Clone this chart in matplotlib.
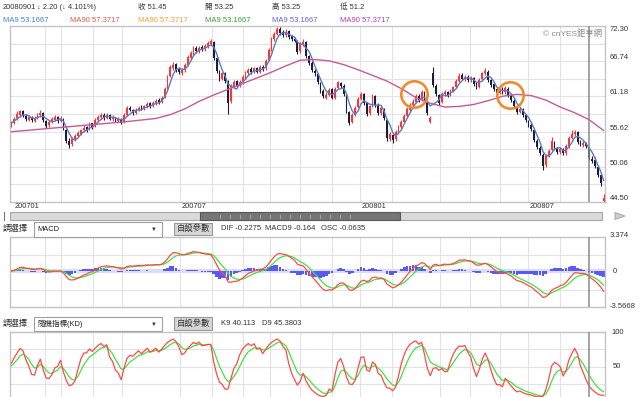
import numpy as np
import pandas as pd
import matplotlib
matplotlib.use("Agg")
import matplotlib.pyplot as plt
from matplotlib.patches import Rectangle, Polygon
from matplotlib.transforms import blended_transform_factory

plt.rcParams['font.family'] = ['Liberation Sans', 'Noto Sans CJK TC', 'DejaVu Sans']

# ---------------- data (each candle ~ 2 trading days) ----------------
close = [57.0, 57.6, 58.4, 58.8, 58.2, 57.6, 57.9, 57.4, 57.8, 58.3,
         58.6, 57.4, 56.5, 57.1, 57.6, 57.9, 57.3, 57.8, 56.0, 54.1,
         53.5, 54.5, 55.0, 55.4, 55.8, 56.2, 55.9, 56.8, 56.4, 57.5,
         58.0, 58.2, 57.8, 58.3, 57.6, 57.9, 57.4, 57.6, 57.0, 58.2,
         59.3, 59.0, 58.6, 59.1, 59.4, 59.2, 59.6, 60.0, 59.7, 60.1,
         60.5, 60.3, 61.0, 62.4, 64.3, 65.8, 66.2, 65.4, 65.0, 65.3,
         66.1, 67.4, 68.0, 68.8, 68.3, 68.9, 68.6, 69.2, 69.6, 69.9,
         67.3, 65.2, 63.9, 64.8, 63.6, 60.2, 62.8, 63.5, 62.9, 63.4,
         64.2, 64.9, 65.4, 65.0, 65.6, 65.1, 65.8, 65.5, 66.8, 68.5,
         70.1, 71.0, 71.8, 71.2, 70.8, 71.4, 70.6, 70.2, 70.0, 68.2,
         69.5, 69.8, 67.6, 66.4, 65.3, 64.8, 63.4, 62.0, 61.2, 61.4,
         62.2, 61.0, 62.4, 63.4, 62.8, 61.5, 58.8, 57.0, 58.2, 59.4,
         60.8, 61.6, 60.2, 58.4, 59.6, 61.3, 59.8, 58.6, 59.3, 57.8,
         54.6, 55.2, 54.3, 55.6, 56.4, 57.2, 58.1, 59.2, 59.8, 60.3,
         61.2, 60.6, 61.9, 60.4, 58.6, 57.8, 63.0, 61.5, 60.2, 61.6,
         61.9, 61.4, 62.0, 62.6, 63.6, 64.4, 64.0, 64.3, 63.7, 64.1,
         63.2, 62.6, 63.8, 64.8, 65.2, 63.7, 63.0, 62.3, 61.7, 62.4,
         61.8, 62.5, 61.4, 60.6, 59.6, 58.7, 59.2, 58.3, 57.4, 56.6,
         56.0, 54.3, 53.2, 52.3, 50.2, 51.8, 52.6, 54.1, 53.0, 52.4,
         52.9, 52.2, 53.3, 54.6, 55.3, 55.6, 54.0, 53.6, 53.8, 53.3,
         51.45, 51.0, 50.2, 48.8, 47.5, 45.2]
open_ = [56.6, 57.0, 57.7, 58.3, 58.9, 58.1, 57.5, 57.9, 57.3, 57.8,
         58.2, 58.5, 57.3, 56.6, 57.1, 57.5, 57.9, 57.3, 57.6, 55.8,
         54.2, 53.6, 54.4, 55.0, 55.3, 55.8, 56.3, 56.0, 56.9, 56.5,
         57.4, 57.9, 58.3, 57.8, 58.2, 57.6, 57.9, 57.3, 57.6, 57.1,
         58.3, 59.4, 59.0, 58.6, 59.0, 59.5, 59.2, 59.6, 60.1, 59.7,
         60.0, 60.6, 60.3, 61.1, 62.5, 64.4, 65.7, 66.3, 65.5, 64.9,
         65.3, 66.2, 67.3, 68.0, 68.9, 68.2, 69.0, 68.6, 69.1, 69.5,
         69.8, 67.2, 65.1, 63.9, 64.9, 63.5, 60.4, 62.7, 63.6, 62.9,
         63.4, 64.1, 64.8, 65.5, 65.0, 65.7, 65.1, 65.9, 65.6, 66.9,
         68.6, 70.2, 71.0, 71.9, 71.3, 70.8, 71.5, 70.7, 70.3, 69.9,
         68.3, 69.4, 69.7, 67.5, 66.5, 65.2, 64.7, 63.3, 62.1, 61.0,
         61.4, 62.3, 61.0, 62.5, 63.3, 62.9, 61.4, 58.7, 57.1, 58.3,
         59.5, 60.8, 61.5, 60.1, 58.5, 59.7, 61.2, 59.9, 58.6, 59.2,
         57.4, 54.5, 55.1, 54.4, 55.6, 56.3, 57.2, 58.1, 59.1, 59.8,
         60.3, 61.3, 60.6, 61.8, 60.3, 57.2, 64.8, 62.9, 61.4, 60.3,
         61.5, 61.9, 61.4, 62.0, 62.7, 63.6, 64.5, 63.9, 64.3, 63.7,
         64.1, 63.2, 62.7, 63.9, 64.8, 65.1, 63.8, 63.1, 62.3, 61.7,
         62.4, 61.8, 62.4, 61.3, 60.5, 59.5, 58.7, 59.1, 58.2, 57.3,
         56.7, 55.8, 54.2, 53.1, 52.0, 50.3, 51.8, 52.7, 54.0, 53.0,
         52.4, 52.9, 52.2, 53.3, 54.6, 55.2, 55.5, 54.0, 53.5, 53.8,
         53.25, 51.3, 51.1, 50.1, 48.7, 44.7]
high = [57.3, 57.9, 58.8, 59.1, 59.0, 58.4, 58.2, 58.1, 58.1, 58.6,
        59.0, 58.7, 57.5, 57.4, 57.9, 58.2, 58.1, 58.1, 57.8, 56.0,
        54.6, 54.8, 55.3, 55.7, 56.1, 56.6, 56.5, 57.1, 57.0, 57.8,
        58.3, 58.5, 58.5, 58.6, 58.4, 58.2, 58.0, 57.9, 57.7, 58.5,
        59.6, 59.7, 59.2, 59.4, 59.7, 59.8, 59.9, 60.3, 60.3, 60.4,
        60.8, 60.9, 61.3, 62.7, 64.6, 66.2, 66.6, 66.5, 65.8, 65.7,
        66.4, 67.7, 68.4, 69.1, 69.2, 69.2, 69.3, 69.5, 69.9, 70.3,
        70.0, 67.4, 65.3, 65.1, 65.1, 63.7, 63.1, 63.8, 63.8, 63.7,
        64.5, 65.2, 65.7, 65.8, 65.9, 65.9, 66.1, 66.2, 67.1, 68.8,
        70.5, 71.4, 72.2, 72.2, 71.6, 71.8, 71.7, 70.9, 70.6, 70.1,
        69.8, 70.2, 69.9, 67.7, 66.7, 65.5, 64.9, 63.5, 62.3, 61.8,
        62.5, 62.5, 62.7, 63.6, 63.5, 63.1, 61.6, 58.9, 58.5, 59.7,
        61.1, 61.9, 61.7, 60.3, 59.9, 61.6, 61.4, 60.1, 59.6, 59.4,
        57.6, 55.5, 55.3, 55.9, 56.7, 57.5, 58.4, 59.5, 60.1, 60.7,
        61.6, 61.5, 62.2, 62.0, 60.5, 58.1, 65.8, 63.2, 61.6, 61.9,
        62.2, 62.1, 62.3, 62.9, 63.9, 64.8, 64.8, 64.6, 64.5, 64.4,
        64.3, 63.4, 64.1, 65.1, 65.6, 65.3, 64.0, 63.3, 62.5, 62.7,
        62.6, 62.8, 62.6, 61.5, 60.7, 59.7, 59.5, 59.3, 58.4, 57.5,
        56.9, 56.0, 54.4, 53.3, 52.2, 52.1, 52.9, 54.7, 54.2, 53.2,
        53.2, 53.1, 53.6, 54.9, 55.8, 55.9, 55.7, 54.3, 54.1, 54.0,
        53.25, 51.8, 51.6, 50.3, 48.9, 45.8]
low = [56.4, 56.8, 57.5, 58.0, 58.0, 57.3, 57.3, 57.1, 57.2, 57.6,
       58.0, 57.2, 56.2, 56.4, 56.9, 57.3, 57.0, 57.1, 55.8, 53.8,
       53.1, 53.4, 54.2, 54.8, 55.1, 55.6, 55.6, 55.8, 56.1, 56.3,
       57.2, 57.6, 57.5, 57.6, 57.4, 57.3, 57.1, 57.1, 56.8, 57.0,
       58.1, 58.8, 58.3, 58.4, 58.8, 59.0, 59.0, 59.4, 59.4, 59.5,
       59.8, 60.0, 60.1, 60.9, 62.3, 64.2, 65.3, 65.0, 64.7, 64.6,
       65.0, 66.0, 67.0, 67.7, 68.0, 68.0, 68.3, 68.4, 68.9, 69.3,
       67.0, 64.9, 63.6, 63.7, 63.3, 58.4, 60.2, 62.5, 62.6, 62.7,
       63.2, 63.9, 64.6, 64.7, 64.8, 64.8, 64.9, 65.2, 65.4, 66.7,
       68.4, 69.9, 70.8, 70.9, 70.5, 70.6, 70.3, 69.9, 69.7, 67.9,
       68.1, 69.2, 67.3, 66.1, 65.0, 64.4, 63.1, 61.7, 60.9, 60.7,
       61.2, 60.7, 60.8, 62.3, 62.5, 61.2, 58.5, 56.6, 56.9, 58.1,
       59.3, 60.6, 59.9, 58.1, 58.2, 59.5, 59.5, 58.3, 58.3, 57.5,
       54.2, 54.1, 53.8, 54.2, 55.3, 56.1, 57.0, 57.9, 58.9, 59.5,
       60.1, 60.3, 60.4, 60.1, 58.3, 56.9, 62.6, 61.2, 59.9, 60.1,
       61.3, 61.1, 61.2, 61.8, 62.5, 63.4, 63.7, 63.6, 63.4, 63.4,
       62.9, 62.3, 62.5, 63.7, 64.6, 63.4, 62.7, 62.0, 61.4, 61.5,
       61.5, 61.6, 61.1, 60.3, 59.3, 58.4, 58.5, 58.0, 57.1, 56.3,
       55.7, 54.0, 52.9, 51.9, 49.5, 50.1, 51.6, 52.5, 52.7, 52.1,
       52.1, 51.9, 52.0, 53.1, 54.4, 55.0, 53.7, 53.3, 53.2, 53.0,
       51.2, 50.7, 49.9, 48.5, 47.1, 44.5]

# MA90 at candle positions
MA90_IDX = [0, 10, 20, 30, 40, 50, 55, 60, 65, 70, 80, 90, 95, 100, 105, 110,
            115, 120, 130, 135, 140, 145, 150, 155, 160, 165, 170, 175, 180,
            185, 190, 195, 200, 205]
MA90_VAL = [55.6, 56.0, 56.4, 56.8, 57.2, 57.7, 58.3, 59.2, 60.4, 61.4, 63.2,
            65.0, 66.0, 66.9, 67.0, 66.8, 66.2, 65.4, 63.6, 62.4, 61.0, 60.1,
            59.5, 59.6, 59.9, 60.5, 61.2, 61.5, 61.3, 60.6, 59.5, 58.6, 57.5,
            55.8]

PRICE_TICKS = ["72.30", "66.74", "61.18", "55.62", "50.06", "44.50"]
MONTH_LABELS = ["200701", "200707", "200801", "200807"]
MONTH_PX = [13, 180, 360, 528]
VGRID_PX = [45, 61, 93, 122, 180, 212, 243, 270, 300, 332, 360, 392, 440,
            470, 500, 528, 560]
CURSOR_IDX = 200
CIRCLE_IDX = [139.4, 172.6]
CIRCLE_PRICE = [61.5, 61.4]

HEADER1 = ["20080901", "↓ 2.20 (↓ 4.101%)", "收 51.45", "開 53.25", "高 53.25", "低 51.2"]
HEADER1_PX = [3, 37, 138, 205, 272, 340]
LEGEND = ["MA9 53.1667", "MA90 57.3717", "MA90 57.3717", "MA9 53.1667",
          "MA9 53.1667", "MA90 57.3717"]
LEGEND_PX = [3, 70, 138, 205, 272, 340]
LEGEND_COLORS = ["#3f7fd8", "#e8574a", "#f5a030", "#3aa03a", "#6a5fd8", "#b63cc0"]
MACD_INFO = ["DIF -0.2275", "MACD9 -0.164", "OSC -0.0635"]
MACD_INFO_PX = [221, 265, 321]
KD_INFO = ["K9 40.113", "D9 45.3803"]
KD_INFO_PX = [221, 262]

# ---------------- figure ----------------
W, H = 640, 397
fig = plt.figure(figsize=(W / 100, H / 100), dpi=100)
fig.patch.set_facecolor('white')

L, R = 10, 605
N = len(close)
pitch = (R - L) / N


def xd(px):
    return (px - L) / pitch - 0.5


def axes_px(top, bottom):
    return fig.add_axes([L / W, 1 - bottom / H, (R - L) / W, (bottom - top) / H])


def T(px, py, s, size=5.5, color='#333333', ha='left', va='center', **kw):
    fig.text(px / W, 1 - py / H, s, fontsize=size, color=color, ha=ha, va=va, **kw)


def rect(x0, y0, x1, y1, fc, ec, lw=0.8, z=1):
    fig.add_artist(Rectangle((x0 / W, 1 - y1 / H), (x1 - x0) / W, (y1 - y0) / H,
                             transform=fig.transFigure, facecolor=fc, edgecolor=ec,
                             linewidth=lw, zorder=z))


ax = axes_px(26, 202)
ax_m = axes_px(237, 307)
ax_k = axes_px(332, 397)

for a in (ax, ax_m, ax_k):
    a.set_xlim(-0.5, N - 0.5)
    a.set_xticks([])
    a.set_yticks([])
    a.set_facecolor('white')
    for s in a.spines.values():
        s.set_color('#c4c4c4')
        s.set_linewidth(1.0)
    for px in VGRID_PX:
        a.axvline(xd(px), color='#e3e3e3', lw=0.8, zorder=0)
    a.axvline(CURSOR_IDX, color='#8a8a8a', lw=1.1, zorder=6)

# ----- main price panel -----
ymin, ymax = 44.50, 72.30
ax.set_ylim(ymin, ymax)
step = (ymax - ymin) / 10
for k in range(1, 10):
    ax.axhline(ymin + k * step, color='#e3e3e3', lw=0.8, zorder=0)

o = np.array(open_)
c = np.array(close)
h = np.array(high)
lo = np.array(low)
x = np.arange(N)
up = c >= o
col = np.where(up, '#ff3434', '#1d1d38')
ax.vlines(x, lo, h, colors=col, lw=0.8, zorder=3)
ax.bar(x, np.maximum(np.abs(c - o), 0.08), bottom=np.minimum(o, c), width=0.62,
       color=col, linewidth=0, zorder=3)

ma9 = pd.Series(c).rolling(4, min_periods=1).mean()
ax.plot(x, ma9, color='#5b7cc6', lw=1.0, zorder=4)
ax.plot(MA90_IDX, MA90_VAL, color='#c65a98', lw=1.0, zorder=4)

ax.plot(CIRCLE_IDX, CIRCLE_PRICE, 'o', ms=19, mfc='none', mec='#f28a2e', mew=1.9,
        ls='none', zorder=7)

tr = blended_transform_factory(ax.transAxes, ax.transData)
for k, lab in enumerate(PRICE_TICKS):
    val = ymax - 2 * k * step
    ax.text(1.008, val, lab, transform=tr, fontsize=5.5, color='#333333',
            ha='left', va='top' if k == 0 else 'bottom')

ax.text(0.995, 0.955, "© cnYES鉅亨網", transform=ax.transAxes, fontsize=6,
        color='#8a8a8a', ha='right', va='center')

for lab, px in zip(MONTH_LABELS, MONTH_PX):
    T(px + 2, 207, lab, size=5.3)

# ----- MACD panel -----
cs = pd.Series(c)
dif = cs.ewm(span=7, adjust=False).mean() - cs.ewm(span=15, adjust=False).mean()
dea = dif.ewm(span=5, adjust=False).mean()
osc = dif - dea
mlo, mhi = -3.5668, 3.374
ax_m.set_ylim(mlo, mhi)
for frac in (0.25, 0.75):
    ax_m.axhline(mlo + frac * (mhi - mlo), color='#e3e3e3', lw=0.8, zorder=0)
ax_m.axhline(0, color='#dcdcf2', lw=3.0, zorder=1)
ax_m.bar(x, osc, width=0.9, color='#5a5af2', linewidth=0, zorder=2)
ax_m.plot(x, dea, color='#44e044', lw=0.9, zorder=3)
ax_m.plot(x, dif, color='#ff4a4a', lw=0.9, zorder=4)
T(610, 236, "3.374")
T(613, 271.5, "0")
T(610, 306, "-3.5668")

# ----- KD panel -----
hh = pd.Series(h).rolling(5, min_periods=1).max()
ll = pd.Series(lo).rolling(5, min_periods=1).min()
rsv = ((cs - ll) / (hh - ll) * 100).values
K, D = [], []
kv = dv = 50.0
for r in rsv:
    kv = 2 / 3 * kv + r / 3
    dv = 2 / 3 * dv + kv / 3
    K.append(kv)
    D.append(dv)
ax_k.set_ylim(7.14, 100)
for v in (75, 50, 25):
    ax_k.axhline(v, color='#e3e3e3', lw=0.8, zorder=0)
ax_k.spines['bottom'].set_visible(False)
ax_k.plot(x, D, color='#44e044', lw=0.9, zorder=3)
ax_k.plot(x, K, color='#ff4a4a', lw=0.9, zorder=4)
T(611, 332, "100")
T(613, 367, "50")

# ----- header -----
for s, px in zip(HEADER1, HEADER1_PX):
    T(px, 7.5, s, size=5.4)
for s, px, colr in zip(LEGEND, LEGEND_PX, LEGEND_COLORS):
    T(px, 20, s, size=5.5, color=colr)

# ----- scrollbar -----
rect(10, 212, 602, 220, '#dadada', '#a6a6a6', lw=0.8)
rect(200, 212, 400, 220, '#767676', '#585858', lw=0.8, z=2)
for k in range(14):
    gx = 220 + k * 10
    fig.add_artist(plt.Line2D([gx / W, gx / W], [1 - 214.5 / H, 1 - 217.5 / H],
                              transform=fig.transFigure, color='#b4b4b4', lw=0.6, zorder=3))
fig.add_artist(plt.Line2D([3.5 / W, 3.5 / W], [1 - 212 / H, 1 - 220 / H],
                          transform=fig.transFigure, color='#777777', lw=0.8))
fig.add_artist(Polygon([[615 / W, 1 - 212.5 / H], [615 / W, 1 - 219.5 / H],
                        [625 / W, 1 - 216 / H]], closed=True, transform=fig.transFigure,
                       facecolor='#d0d0d0', edgecolor='#9a9a9a', lw=0.6))


# ----- toolbars -----
def toolbar(yc, name, info, info_px):
    T(3, yc, "請選擇", size=6)
    rect(34, yc - 7, 162, yc + 7.5, 'white', '#a0a0a0', lw=0.8)
    T(37, yc + 0.5, name, size=5.4, color='#222222')
    T(154, yc + 0.5, "▼", size=4.2, color='#333333', ha='center')
    rect(174, yc - 6.5, 212, yc + 6, '#d6d6d6', '#9a9a9a', lw=0.8)
    T(193, yc, "自設參數", size=6, color='#333333', ha='center')
    for s, px in zip(info, info_px):
        T(px, yc, s, size=5.5)


toolbar(229, "MACD", MACD_INFO, MACD_INFO_PX)
toolbar(323.5, "隨機指標(KD)", KD_INFO, KD_INFO_PX)

fig.savefig("out.png", dpi=100, facecolor='white')
